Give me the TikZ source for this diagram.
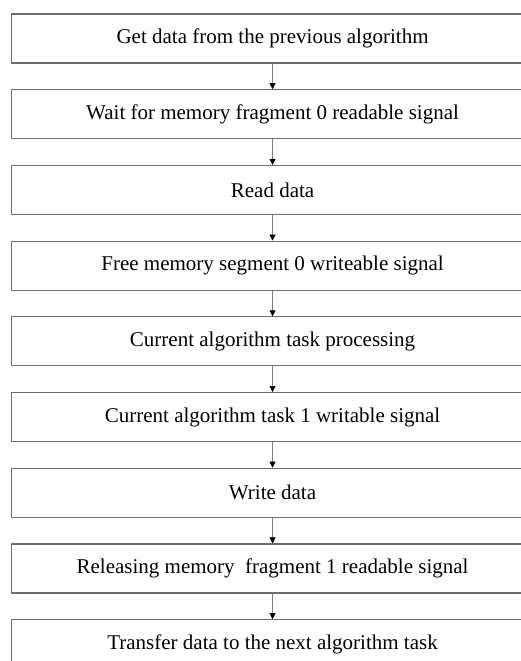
\documentclass[tikz,border=0pt]{standalone}
\usepackage{fontspec}
\setmainfont{Liberation Serif}
\usetikzlibrary{arrows.meta}
\definecolor{boxgray}{HTML}{6E6E6E}
\definecolor{arrgray}{HTML}{808080}
\begin{document}
\begin{tikzpicture}[x=1pt,y=-1pt,
  box/.style={draw=boxgray, line width=1.1pt, minimum width=523pt, minimum height=49pt,
    inner sep=0pt, anchor=north west, font=\fontsize{21}{25}\selectfont},
  conn/.style={draw=arrgray, line width=0.6pt, -{Triangle[length=6pt,width=6pt,fill=black,color=black]}}]
\useasboundingbox (0,0) rectangle (521,661);
\node[box] (b1) at (10.5,13.5) {Get data from the previous algorithm};
\node[box] (b2) at (10.5,89.2) {Wait for memory fragment 0 readable signal};
\node[box] (b3) at (10.5,164.9) {Read data};
\node[box] (b4) at (10.5,240.6) {Free memory segment 0 writeable signal};
\node[box] (b5) at (10.5,316.3) {Current algorithm task processing};
\node[box] (b6) at (10.5,392.0) {Current algorithm task 1 writable signal};
\node[box] (b7) at (10.5,467.7) {Write data};
\node[box] (b8) at (10.5,543.4) {Releasing memory \ fragment 1 readable signal};
\node[box] (b9) at (10.5,619.1) {Transfer data to the next algorithm task};
\foreach \a/\b in {b1/b2,b2/b3,b3/b4,b4/b5,b5/b6,b6/b7,b7/b8,b8/b9}
  \draw[conn] (\a.south) -- (\b.north);
\end{tikzpicture}
\end{document}
